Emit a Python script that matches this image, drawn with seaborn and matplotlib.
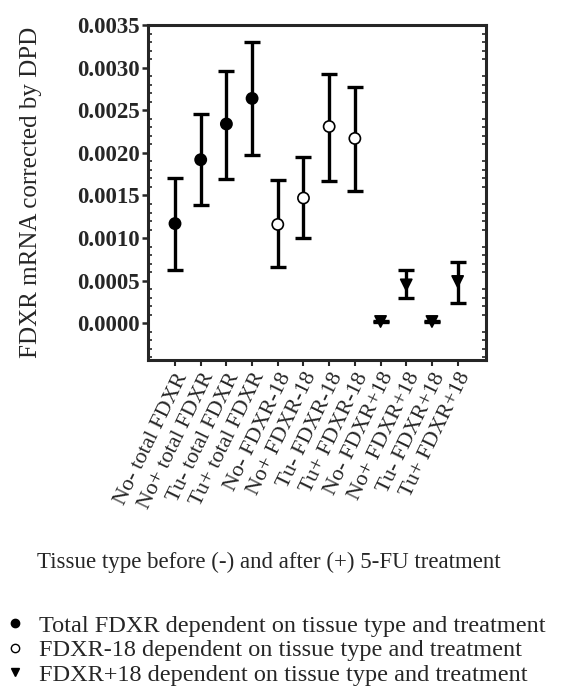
import matplotlib
matplotlib.use("Agg")
import matplotlib.pyplot as plt
from matplotlib.lines import Line2D
from matplotlib.ticker import MultipleLocator, FormatStrFormatter
import numpy as np
import pandas as pd
import seaborn as sns

labels = [
    "No- total FDXR", "No+ total FDXR", "Tu- total FDXR", "Tu+ total FDXR",
    "No- FDXR-18", "No+ FDXR-18", "Tu- FDXR-18", "Tu+ FDXR-18",
    "No- FDXR+18", "No+ FDXR+18", "Tu- FDXR+18", "Tu+ FDXR+18",
]
groups = ["total"] * 4 + ["minus18"] * 4 + ["plus18"] * 4
means = [0.00117, 0.00192, 0.00234, 0.00264,
         0.00116, 0.00147, 0.00231, 0.00217,
         0.00002, 0.00045, 0.00002, 0.00049]
lower = [0.00063, 0.00139, 0.00169, 0.00197,
         0.00066, 0.00100, 0.00167, 0.00155,
         0.00001, 0.00030, 0.00001, 0.00024]
upper = [0.00170, 0.00246, 0.00296, 0.00330,
         0.00168, 0.00195, 0.00293, 0.00278,
         0.00003, 0.00062, 0.00003, 0.00072]
legend_text = [
    "Total FDXR dependent on tissue type and treatment",
    "FDXR-18 dependent on tissue type and treatment",
    "FDXR+18 dependent on tissue type and treatment",
]

df = pd.DataFrame({"label": labels, "group": groups, "mean": means,
                   "lo": lower, "hi": upper})
df["x"] = np.arange(len(df))

sns.set_style("ticks")
plt.rcParams["font.family"] = ["Liberation Serif", "DejaVu Serif"]

fig = plt.figure(figsize=(5.65, 7.0), dpi=100)
ax = fig.add_axes([0.262, 0.486, 0.598, 0.478])

ax.errorbar(df["x"], df["mean"],
            yerr=[df["mean"] - df["lo"], df["hi"] - df["mean"]],
            fmt="none", ecolor="black", elinewidth=2.4, capsize=6, capthick=2.4,
            zorder=2)

sns.scatterplot(data=df, x="x", y="mean", hue="group", style="group",
                palette={"total": "black", "minus18": "white", "plus18": "black"},
                markers={"total": "o", "minus18": "o", "plus18": "v"},
                edgecolor="black", linewidth=1.2, s=65, legend=False,
                zorder=3, ax=ax)

ax.set_xlim(-1.05, 12.1)
ax.set_ylim(-0.00043, 0.0035)
ax.set_xticks(df["x"])
ax.set_xticklabels(df["label"], rotation=64, ha="right", rotation_mode="anchor",
                   fontsize=16)
ax.yaxis.set_major_locator(MultipleLocator(0.0005))
ax.yaxis.set_minor_locator(MultipleLocator(0.0001))
ax.yaxis.set_major_formatter(FormatStrFormatter("%.4f"))
for t in ax.get_yticklabels():
    t.set_fontweight("bold")
    t.set_fontsize(16.5)

ax.tick_params(axis="y", which="major", direction="out", length=4, width=1.8,
               left=True, right=False, pad=2)
ax.tick_params(axis="y", which="minor", direction="in", length=3, width=1.2,
               left=True, right=True)
ax.tick_params(axis="x", which="major", direction="out", length=4, width=1.5,
               pad=3)
for s in ax.spines.values():
    s.set_linewidth(2.2)

ax.set_xlabel("")
ax.set_ylabel("FDXR mRNA corrected by DPD", fontsize=18, labelpad=25)
fig.text(0.475, 0.196, "Tissue type before (-) and after (+) 5-FU treatment",
         ha="center", va="center", fontsize=16.5)

handles = [
    Line2D([], [], linestyle="none", marker="o", markersize=6,
           markerfacecolor="black", markeredgecolor="black"),
    Line2D([], [], linestyle="none", marker="o", markersize=6,
           markerfacecolor="white", markeredgecolor="black"),
    Line2D([], [], linestyle="none", marker="v", markersize=6,
           markerfacecolor="black", markeredgecolor="black"),
]
fig.legend(handles, legend_text, loc="upper left", bbox_to_anchor=(-0.012, 0.139),
           frameon=False, fontsize=17.5, handlelength=0.8, handletextpad=0.6,
           labelspacing=0.1, borderpad=0)

fig.savefig("out.png", dpi=100)
